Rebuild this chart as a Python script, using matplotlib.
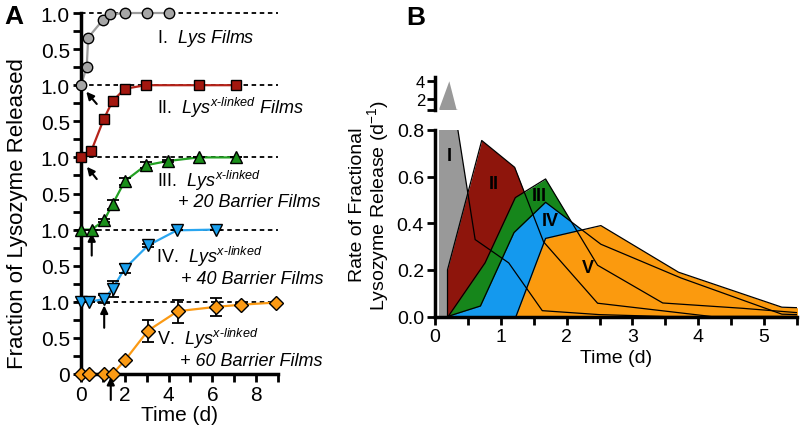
import matplotlib
matplotlib.use('Agg')
import matplotlib.pyplot as plt
from matplotlib.ticker import MultipleLocator

plt.rcParams['font.family'] = ['Liberation Sans', 'DejaVu Sans']
plt.rcParams['mathtext.fontset'] = 'custom'
plt.rcParams['mathtext.rm'] = 'Liberation Sans'
plt.rcParams['mathtext.it'] = 'Liberation Sans:italic'
plt.rcParams['mathtext.bf'] = 'Liberation Sans:bold'

# ---- panel A: cumulative fraction released ----
t_I = [0, 0.26, 0.33, 0.99, 1.32, 2.0, 3.0, 4.0]
f_I = [0, 0.25, 0.66, 0.90, 0.98, 1.0, 1.0, 1.0]

t_II = [0, 0.47, 1.04, 1.44, 2.0, 2.95, 5.4, 7.1]
f_II = [0, 0.09, 0.53, 0.78, 0.95, 1.0, 1.0, 1.0]

t_III = [0, 0.49, 1.06, 1.44, 2.0, 2.95, 3.97, 5.38, 7.1]
f_III = [0, 0.0, 0.13, 0.35, 0.67, 0.89, 0.95, 1.0, 1.0]
e_III = [0, 0, 0.02, 0.065, 0.05, 0.04, 0.01, 0, 0]

t_IV = [0, 0.38, 1.06, 1.44, 2.0, 3.06, 4.38, 6.17]
f_IV = [0, 0, 0.04, 0.18, 0.46, 0.78, 0.99, 1.0]
e_IV = [0, 0, 0.06, 0.11, 0.06, 0.02, 0, 0]

t_V = [0, 0.38, 1.06, 1.44, 2.01, 3.06, 4.42, 6.17, 7.33, 8.9]
f_V = [0, 0, 0, 0, 0.19, 0.60, 0.87, 0.93, 0.96, 0.99]
e_V = [0, 0, 0, 0, 0, 0.15, 0.16, 0.12, 0.02, 0]

yticks_A = [0, 0.5, 1, 1.5, 2, 2.5, 3, 3.5, 4, 4.5, 5]
ylabels_A = ['0', '0.5', '1.0', '0.5', '1.0', '0.5', '1.0', '0.5', '1.0', '0.5', '1.0']

# ---- panel B: rate of fractional release ----
bx_I = [0.06, 0.21, 0.32, 0.61, 1.12, 1.63, 2.5, 3.5, 4.5, 5.5]
by_I = [1.0, 4.07, 0.85, 0.33, 0.23, 0.025, 0.008, 0.0, 0.0, 0.0]
bx_II = [0.19, 0.71, 1.21, 1.65, 2.47, 4.2, 6.25]
by_II = [0.20, 0.755, 0.64, 0.32, 0.057, 0.0, 0.0]
bx_III = [0.2, 0.76, 1.22, 1.68, 2.47, 3.46, 4.68, 6.24]
by_III = [0.0, 0.23, 0.51, 0.59, 0.22, 0.058, 0.035, 0.0]
bx_IV = [0.19, 0.69, 1.2, 1.68, 2.52, 3.74, 5.27, 6.5]
by_IV = [0.0, 0.045, 0.36, 0.49, 0.31, 0.165, 0.01, 0.0]
bx_V = [1.23, 1.68, 2.52, 3.7, 5.27, 6.75]
by_V = [0.0, 0.335, 0.39, 0.19, 0.04, 0.026]

fill_cols = ['#999999', '#8e150c', '#16861b', '#1499ee', '#fb9a0e']

fig = plt.figure(figsize=(8, 4.31), dpi=100)

# ================= panel A =================
axA = fig.add_axes([81/800, 1-375/431, 197/800, 361/431])
axA.set_xlim(0, 9)
axA.set_ylim(0, 5)
for lev in [1, 2, 3, 4, 5]:
    axA.plot([0, 9], [lev, lev], ls=(0, (2.5, 2)), color='k', lw=1.3, zorder=1, clip_on=False)

series = [
    (t_I, f_I, None, 4, 'o', '#a6a6a6', '#9c9c9c', 7.5),
    (t_II, f_II, None, 3, 's', '#a3170f', '#b5231a', 7),
    (t_III, f_III, e_III, 2, '^', '#1a8f1a', '#22a022', 8),
    (t_IV, f_IV, e_IV, 1, 'v', '#1aa0ee', '#2aa6f0', 8),
    (t_V, f_V, e_V, 0, 'D', '#fb9a14', '#fb9a14', 7),
]
for t, f, e, off, mk, mfc, lc, ms in series:
    y = [v + off for v in f]
    axA.plot(t, y, color=lc, lw=1.6, zorder=2, clip_on=False)
    if e is not None:
        axA.errorbar(t, y, yerr=e, fmt='none', ecolor='k', elinewidth=1.3,
                     capsize=4, capthick=1.3, zorder=3, clip_on=False)
    axA.plot(t, y, ls='none', marker=mk, ms=ms, mfc=mfc, mec='k', mew=1.0,
             zorder=4, clip_on=False)

arr = dict(arrowstyle='-|>,head_length=0.45,head_width=0.22', color='k', lw=1.5,
           shrinkA=0, shrinkB=0)
for head, tail in [((0.24, 3.91), (0.72, 3.74)), ((0.27, 2.87), (0.72, 2.7)),
                   ((0.49, 1.95), (0.49, 1.64)), ((1.06, 0.95), (1.06, 0.64)),
                   ((1.36, -0.04), (1.36, -0.36))]:
    axA.annotate('', xy=head, xytext=tail, arrowprops=arr, annotation_clip=False)

tfs = 13
axA.text(3.45, 4.6, r'I.  $\mathit{Lys\ Films}$', fontsize=tfs)
axA.text(3.45, 3.61, r'II.  $\mathit{Lys}^{\mathit{x\text{-}linked}}\ \mathit{Films}$', fontsize=tfs)
axA.text(3.45, 2.6, r'III.  $\mathit{Lys}^{\mathit{x\text{-}linked}}$', fontsize=tfs)
axA.text(4.45, 2.32, '+ 20 Barrier Films', fontsize=tfs, style='italic')
axA.text(3.44, 1.55, r'IV.  $\mathit{Lys}^{\mathit{x\text{-}linked}}$', fontsize=tfs)
axA.text(4.55, 1.26, '+ 40 Barrier Films', fontsize=tfs, style='italic')
axA.text(3.48, 0.42, r'V.  $\mathit{Lys}^{\mathit{x\text{-}linked}}$', fontsize=tfs)
axA.text(4.5, 0.12, '+ 60 Barrier Films', fontsize=tfs, style='italic')

axA.set_yticks(yticks_A)
axA.set_yticklabels(ylabels_A)
axA.yaxis.set_minor_locator(MultipleLocator(0.25))
axA.set_xticks([0, 2, 4, 6, 8])
axA.xaxis.set_minor_locator(MultipleLocator(1))
for s in ['top', 'right']:
    axA.spines[s].set_visible(False)
for s in ['left', 'bottom']:
    axA.spines[s].set_linewidth(2.5)
axA.tick_params(which='both', direction='out', width=2, length=6, labelsize=15, pad=2)
axA.set_xlabel('Time (d)', fontsize=15, labelpad=1)
fig.text(18/800, 1-214/431, 'Fraction of Lysozyme Released', rotation=90,
         fontsize=16, ha='center', va='center')
fig.text(14/800, 1-17/431, 'A', fontsize=19, fontweight='bold', ha='center', va='center')

# ================= panel B =================
axB = fig.add_axes([435/800, 1-317.5/431, 362/800, 186.5/431])
axU = fig.add_axes([435/800, 1-110.5/431, 362/800, 32.5/431])
axB.set_xlim(0, 5.5)
axB.set_ylim(0, 0.8)
axU.set_xlim(0, 5.5)
axU.set_ylim(0.8, 4.5)

rates = [(bx_I, by_I), (bx_II, by_II), (bx_III, by_III), (bx_IV, by_IV), (bx_V, by_V)]
for i, (bx, by) in enumerate(rates):
    axB.fill_between(bx, 0, by, color=fill_cols[i], lw=0, zorder=1 + i)
axU.fill_between(bx_I, 0.8, by_I, where=[v > 0.8 for v in by_I], interpolate=True,
                 color=fill_cols[0], lw=0)

axB.plot(bx_I[2:], by_I[2:], color='k', lw=0.9, zorder=8)
for bx, by in rates[1:]:
    axB.plot([bx[0]] + bx, [0] + by, color='k', lw=0.9, zorder=8)

lab_fs = 13
axB.text(0.22, 0.69, 'I', fontsize=lab_fs, fontweight='bold', ha='center', va='center', zorder=9)
axB.text(0.89, 0.57, 'II', fontsize=lab_fs, fontweight='bold', ha='center', va='center', zorder=9)
axB.text(1.58, 0.52, 'III', fontsize=lab_fs, fontweight='bold', ha='center', va='center', zorder=9)
axB.text(1.75, 0.41, 'IV', fontsize=lab_fs, fontweight='bold', ha='center', va='center', zorder=9)
axB.text(2.32, 0.21, 'V', fontsize=lab_fs, fontweight='bold', ha='center', va='center', zorder=9)

axB.set_yticks([0, 0.2, 0.4, 0.6, 0.8])
axB.set_yticklabels(['0.0', '0.2', '0.4', '0.6', '0.8'])
axB.set_xticks([0, 1, 2, 3, 4, 5])
axB.xaxis.set_minor_locator(MultipleLocator(0.5))
for s in ['top', 'right']:
    axB.spines[s].set_visible(False)
for s in ['left', 'bottom']:
    axB.spines[s].set_linewidth(2.5)
    axB.spines[s].set_zorder(10)
axB.tick_params(which='both', direction='out', width=2, length=6, labelsize=14, pad=2)
axB.set_xlabel('Time (d)', fontsize=14, labelpad=3)

axU.set_yticks([0.8, 2, 4])
axU.set_yticklabels(['', '2', '4'])
axU.set_xticks([])
for s in ['top', 'right', 'bottom']:
    axU.spines[s].set_visible(False)
axU.spines['left'].set_linewidth(2.5)
axU.tick_params(direction='out', width=2, length=6, labelsize=12, pad=1)

fig.text(370/800, 1-205/431, 'Rate of Fractional\nLysozyme Release (d$^{-1}$)',
         rotation=90, fontsize=14, ha='center', va='center', multialignment='center',
         linespacing=1.0)
fig.text(416/800, 1-18/431, 'B', fontsize=19, fontweight='bold', ha='center', va='center')

fig.savefig('out.png', dpi=100)
